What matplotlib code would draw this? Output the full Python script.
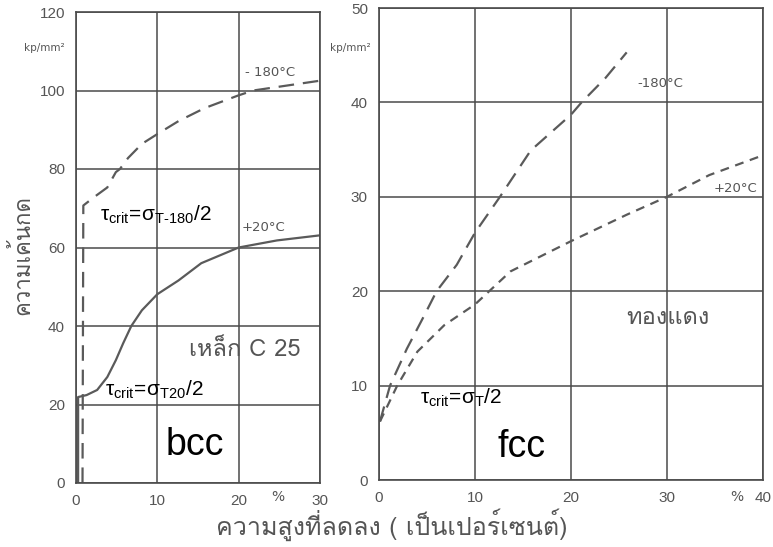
import matplotlib
matplotlib.use("Agg")
import matplotlib.pyplot as plt
from matplotlib import font_manager
from matplotlib.ft2font import FT2Font

# ---- find a font with Thai glyphs ----
thai_family = None
for f in font_manager.fontManager.ttflist:
    try:
        cm = FT2Font(f.fname).get_charmap()
        if 0x0E01 in cm and 0x0E40 in cm and 0x0E4C in cm:
            thai_family = f.name
            if f.weight in ("normal", 400, "regular"):
                break
    except Exception:
        pass
THAI = [thai_family, "DejaVu Sans"] if thai_family else ["DejaVu Sans"]

plt.rcParams["mathtext.fontset"] = "custom"
plt.rcParams["mathtext.rm"] = "Liberation Sans"
plt.rcParams["mathtext.it"] = "Liberation Sans"
plt.rcParams["mathtext.bf"] = "Liberation Sans"

# ---- data ----
# Left: steel C 25 (bcc)
steel_m180_x = [0.8, 0.9, 2.2, 3.85, 4.9, 5.4, 6.4, 8.1, 10.0, 12.6, 15.8, 19.9, 21.8, 30.0]
steel_m180_y = [0, 70.7, 72.8, 75.3, 79.2, 80.0, 82.8, 86.4, 88.9, 92.2, 95.5, 98.7, 100.0, 102.5]
steel_p20_x = [0.26, 0.26, 1.3, 2.6, 3.85, 4.9, 5.8, 6.8, 8.1, 10.0, 12.6, 15.4, 20.0, 24.7, 30.0]
steel_p20_y = [0, 21.9, 22.4, 23.7, 27.0, 31.3, 35.6, 40.0, 44.0, 48.1, 51.6, 56.0, 60.0, 61.8, 63.1]
# Right: copper (fcc)
cu_m180_x = [0.1, 1.15, 2.9, 4.7, 6.0, 8.1, 10.0, 12.6, 15.8, 20.0, 21.1, 23.6, 25.8]
cu_m180_y = [6.2, 10.0, 13.9, 17.4, 20.0, 22.8, 26.2, 30.0, 34.9, 38.7, 40.0, 42.6, 45.3]
cu_p20_x = [0.1, 1.9, 4.0, 6.8, 10.0, 13.7, 20.0, 25.8, 30.0, 34.4, 40.0]
cu_p20_y = [6.2, 10.0, 13.6, 16.4, 18.6, 22.1, 25.3, 28.1, 30.0, 32.3, 34.4]

left_xticks = [0, 10, 20, 30]
left_yticks = [0, 20, 40, 60, 80, 100, 120]
right_xticks = [0, 10, 20, 30, 40]
right_yticks = [0, 10, 20, 30, 40, 50]

GRID = "#4a4a4a"
CURVE = "#5a5a5a"
TXT = "#555555"

fig = plt.figure(figsize=(7.73, 5.47), dpi=100)
axL = fig.add_axes([76/773, 1-483/547, 244/773, 471/547])
axR = fig.add_axes([379/773, 1-480/547, 384/773, 472/547])

def style(ax, xlim, ylim, xt, yt):
    ax.set_xlim(*xlim)
    ax.set_ylim(*ylim)
    ax.set_xticks(xt)
    ax.set_yticks(yt)
    ax.grid(True, color=GRID, lw=1.1)
    ax.set_axisbelow(True)
    for s in ax.spines.values():
        s.set_color(GRID)
        s.set_linewidth(1.2)
    ax.tick_params(length=0, labelsize=11, labelcolor=TXT, pad=8)
    for lab in ax.get_xticklabels() + ax.get_yticklabels():
        lab.set_fontfamily("Liberation Sans")
        lab.set_fontstretch("condensed")

style(axL, (0, 30), (0, 120), left_xticks, left_yticks)
style(axR, (0, 40), (0, 50), right_xticks, right_yticks)

axL.plot(steel_m180_x, steel_m180_y, color=CURVE, lw=1.6, dashes=(7, 4))
axL.plot(steel_p20_x, steel_p20_y, color=CURVE, lw=1.6)
axR.plot(cu_m180_x, cu_m180_y, color=CURVE, lw=1.6, dashes=(7, 4))
axR.plot(cu_p20_x, cu_p20_y, color=CURVE, lw=1.6, dashes=(4, 3))

# curve labels
axL.text(23.9, 104.5, "- 180°C", fontsize=9.5, color=TXT, ha="center", va="center")
axL.text(23.0, 65.2, "+20°C", fontsize=9.5, color=TXT, ha="center", va="center")
axR.text(26.9, 42.0, "-180°C", fontsize=9.5, color=TXT, ha="left", va="center")
axR.text(37.1, 30.9, "+20°C", fontsize=9.5, color=TXT, ha="center", va="center")

# formula annotations
axL.text(2.95, 68.3, r"$\tau_{\mathrm{crit}}\!=\!\sigma_{\mathrm{T\text{-}180}}\mathrm{/2}$",
         fontsize=15, color="black", ha="left", va="center")
axL.text(3.6, 23.7, r"$\tau_{\mathrm{crit}}\!=\!\sigma_{\mathrm{T20}}\mathrm{/2}$",
         fontsize=15, color="black", ha="left", va="center")
axR.text(4.3, 8.7, r"$\tau_{\mathrm{crit}}\!=\!\sigma_{\mathrm{T}}\mathrm{/2}$",
         fontsize=15, color="black", ha="left", va="center")

axL.text(14.6, 9.7, "bcc", fontsize=27, family="Liberation Sans", color="black",
         ha="center", va="center")
axR.text(14.8, 3.5, "fcc", fontsize=27, family="Liberation Sans", color="black",
         ha="center", va="center")

axL.text(20.8, 33.9, "เหล็ก C 25", fontsize=17, family=THAI, color=TXT,
         ha="center", va="center")
axR.text(30.1, 17.2, "ทองแดง", fontsize=17, family=THAI, color=TXT,
         ha="center", va="center")

# units and percent signs
fig.text(44/773, 1-48/547, "kp/mm²", fontsize=7.5, color=TXT, ha="center", va="center")
fig.text(350/773, 1-48/547, "kp/mm²", fontsize=7.5, color=TXT, ha="center", va="center")
fig.text(278/773, 1-497/547, "%", fontsize=10, color=TXT, ha="center", va="center")
fig.text(737/773, 1-497/547, "%", fontsize=10, color=TXT, ha="center", va="center")

# axis titles
fig.text(22/773, 1-255/547, "ความเค้นกด", rotation=90, fontsize=16, family=THAI,
         color=TXT, ha="center", va="center")
fig.text(392/773, 1-525/547, "ความสูงที่ลดลง ( เป็นเปอร์เซนต์)", fontsize=18,
         family=THAI, color=TXT, ha="center", va="center")

fig.savefig("out.png", dpi=100, facecolor="white")
